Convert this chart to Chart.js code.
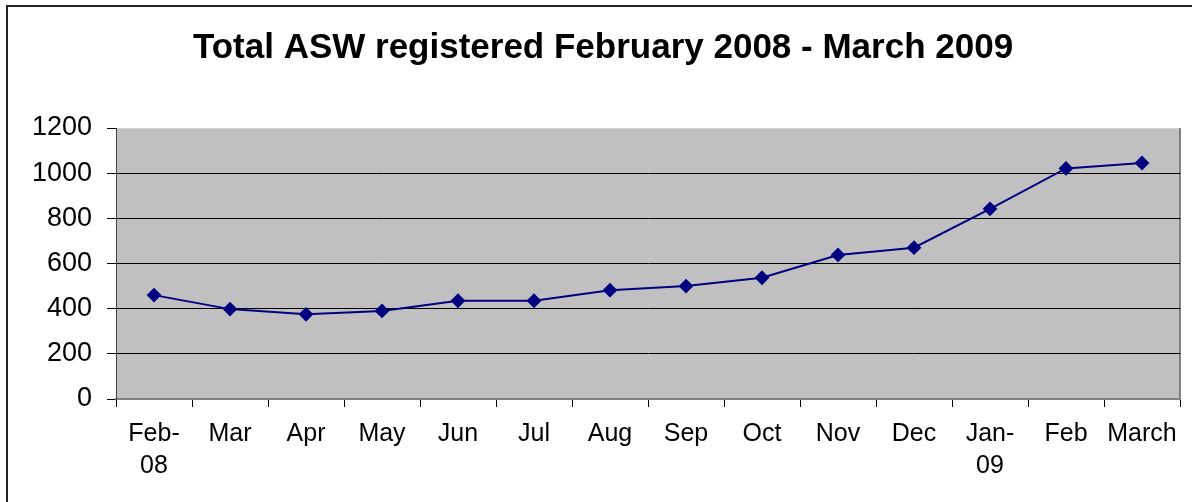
<!DOCTYPE html>
<html>
<head>
<meta charset="utf-8">
<script src="https://cdn.jsdelivr.net/npm/chart.js@4"></script>
<style>
  html, body { margin: 0; padding: 0; background: #fff; overflow: hidden; }
  #wrap { position: relative; width: 1192px; height: 502px; }
  #frame {
    position: absolute; left: 6px; top: 5px; width: 1300px; height: 600px;
    border: 2px solid #222; box-sizing: border-box; pointer-events: none;
  }
</style>
</head>
<body>
<div id="wrap">
  <canvas id="chart" width="1192" height="502"></canvas>
  <div id="frame"></div>
</div>
<script>
const months = [["Feb-", "08"], "Mar", "Apr", "May", "Jun", "Jul", "Aug", "Sep", "Oct", "Nov", "Dec", ["Jan-", "09"], "Feb", "March"];
const totalASW = [460, 398, 375, 390, 435, 435, 482, 500, 537, 638, 670, 842, 1021, 1045];
const yTicks = [0, 200, 400, 600, 800, 1000, 1200];

const FONT = "'Liberation Sans', Arial, sans-serif";

// grey plot background with its own frame
const plotBg = {
  id: "plotBg",
  beforeDraw(chart) {
    const { ctx, chartArea: a } = chart;
    ctx.save();
    ctx.fillStyle = "#c0c0c0";
    ctx.fillRect(a.left, a.top, a.right - a.left, a.bottom - a.top);
    ctx.lineWidth = 1;
    ctx.strokeStyle = "#d4d4d4";
    ctx.beginPath();
    ctx.moveTo(a.left, a.top + 0.5);
    ctx.lineTo(a.right, a.top + 0.5);
    ctx.stroke();
    ctx.strokeStyle = "#808080";
    ctx.lineWidth = 2;
    ctx.beginPath();
    ctx.moveTo(a.right, a.top);
    ctx.lineTo(a.right, a.bottom);
    ctx.stroke();
    ctx.restore();
  }
};

new Chart(document.getElementById("chart"), {
  type: "line",
  data: {
    labels: months,
    datasets: [{
      data: totalASW,
      borderColor: "#000080",
      backgroundColor: "#000080",
      borderWidth: 2,
      pointStyle: "rectRot",
      pointRadius: 6,
      pointHoverRadius: 6,
      tension: 0
    }]
  },
  options: {
    responsive: false,
    animation: false,
    layout: { padding: { left: 26, right: 12, top: 0, bottom: 0 } },
    plugins: {
      legend: { display: false },
      tooltip: { enabled: false },
      title: {
        display: true,
        text: "Total ASW registered February 2008 - March 2009",
        color: "#000",
        font: { family: FONT, size: 35, weight: "bold" },
        padding: { top: 27, bottom: 59 }
      }
    },
    scales: {
      x: {
        offset: true,
        grid: {
          offset: true,
          drawOnChartArea: false,
          drawTicks: true,
          tickLength: 8,
          tickColor: "#000"
        },
        border: { display: true, color: "#808080", width: 2 },
        ticks: {
          color: "#000",
          maxRotation: 0,
          autoSkip: false,
          padding: 11,
          font: { family: FONT, size: 25, lineHeight: 1.28 }
        },
        afterFit(scale) { scale.height = 103; }
      },
      y: {
        min: 0,
        max: 1200,
        afterBuildTicks(scale) { scale.ticks = yTicks.map(v => ({ value: v })); },
        grid: {
          color: ctx => (ctx.tick && (ctx.tick.value === 0 || ctx.tick.value === 1200)) ? "rgba(0,0,0,0)" : "#000",
          tickColor: "#000",
          tickLength: 9,
          lineWidth: 1
        },
        border: { display: true, color: "#404040", width: 1 },
        ticks: {
          color: "#000",
          padding: 15,
          font: { family: FONT, size: 27 },
          callback: v => String(v)
        },
        afterFit(scale) { scale.width = 90; }
      }
    }
  },
  plugins: [plotBg]
});
</script>
</body>
</html>
